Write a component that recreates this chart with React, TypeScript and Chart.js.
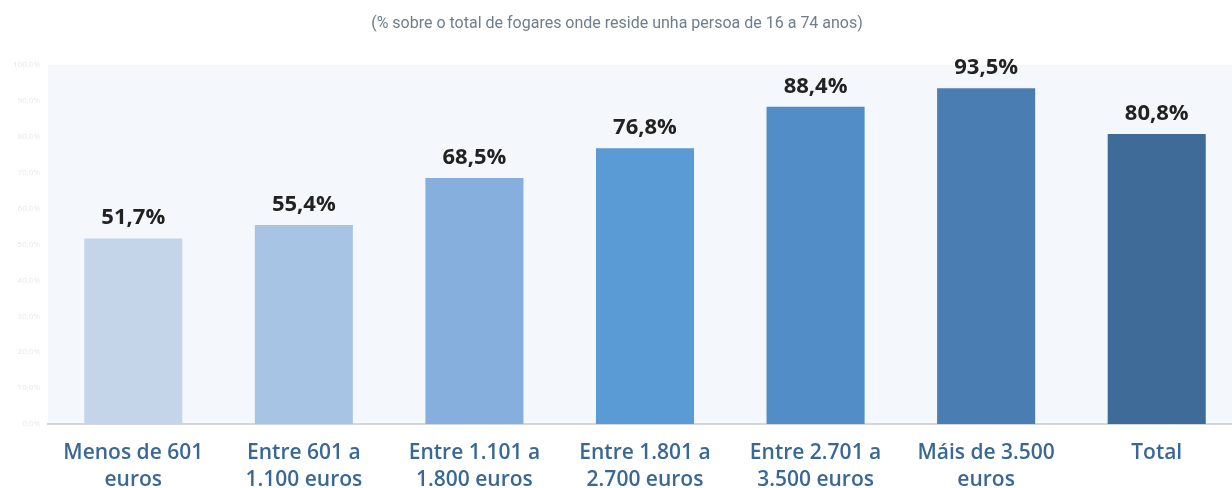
import React, { useEffect, useRef } from "react";
import { Chart, registerables } from "chart.js";

Chart.register(...registerables);

const subtitle = "(% sobre o total de fogares onde reside unha persoa de 16 a 74 anos)";
const categories: string[][] = [
  ["Menos de 601", "euros"],
  ["Entre 601 a", "1.100 euros"],
  ["Entre 1.101 a", "1.800 euros"],
  ["Entre 1.801 a", "2.700 euros"],
  ["Entre 2.701 a", "3.500 euros"],
  ["Máis de 3.500", "euros"],
  ["Total"],
];
const values: number[] = [51.7, 55.4, 68.5, 76.8, 88.4, 93.5, 80.8];
const barColors: string[] = ["#c4d5ea", "#a8c4e5", "#87afdd", "#5b9bd5", "#538dc7", "#4a7eb2", "#3f6b98"];

const fmt = (v: number) => v.toFixed(1).replace(".", ",") + "%";

const decoPlugin = {
  id: "deco",
  beforeDraw(chart: any) {
    const { ctx, chartArea } = chart;
    ctx.save();
    ctx.fillStyle = "#f4f8fc";
    ctx.fillRect(chartArea.left, chartArea.top, chartArea.right - chartArea.left, chartArea.bottom - chartArea.top);
    ctx.fillStyle = "#6f7d8c";
    ctx.font = "16px Roboto";
    ctx.textAlign = "center";
    ctx.textBaseline = "middle";
    ctx.fillText(subtitle, 617, 24);
    ctx.restore();
  },
  afterDatasetsDraw(chart: any) {
    const { ctx } = chart;
    const meta = chart.getDatasetMeta(0);
    ctx.save();
    ctx.fillStyle = "#222222";
    ctx.font = "bold 22px 'Open Sans'";
    ctx.textAlign = "center";
    ctx.textBaseline = "alphabetic";
    meta.data.forEach((bar: any, i: number) => {
      ctx.fillText(fmt(values[i]), bar.x, bar.y - 14);
    });
    ctx.restore();
  },
};

export default function App() {
  const ref = useRef<HTMLCanvasElement>(null);
  useEffect(() => {
    if (!ref.current) return;
    const chart = new Chart(ref.current, {
      type: "bar",
      data: {
        labels: categories,
        datasets: [
          {
            data: values,
            backgroundColor: barColors,
            borderWidth: 0,
            barPercentage: 0.575,
            categoryPercentage: 1,
          },
        ],
      },
      options: {
        animation: false,
        responsive: false,
        layout: { padding: { top: 65, left: 0, right: 0, bottom: 0 } },
        plugins: { legend: { display: false }, tooltip: { enabled: false }, title: { display: false } },
        scales: {
          x: {
            grid: { display: false, drawTicks: false, tickLength: 0 },
            border: { display: true, color: "#d4d6d8", width: 2 },
            ticks: {
              color: "#3a6896",
              font: { family: "'Open Sans'", size: 21, weight: "600", lineHeight: 1.3 },
              padding: 15,
              maxRotation: 0,
              autoSkip: false,
            },
            afterFit: (s: any) => {
              s.height = 64;
            },
          },
          y: {
            min: 0,
            max: 100,
            grid: { display: false, drawTicks: false },
            border: { display: false },
            ticks: {
              stepSize: 10,
              color: "#e6e8ea",
              font: { family: "'Open Sans'", size: 8 },
              padding: 8,
              callback: (v: any) => Number(v).toFixed(1).replace(".", ",") + "%",
            },
            afterFit: (s: any) => {
              s.width = 48;
            },
          },
        },
      },
      plugins: [decoPlugin],
    });
    return () => chart.destroy();
  }, []);
  return (
    <div style={{ position: "fixed", left: 0, top: 0, width: 1232, height: 488, overflow: "hidden", background: "#fff" }}>
      <canvas ref={ref} width={1242} height={488} style={{ width: 1242, height: 488, display: "block" }} />
    </div>
  );
}
